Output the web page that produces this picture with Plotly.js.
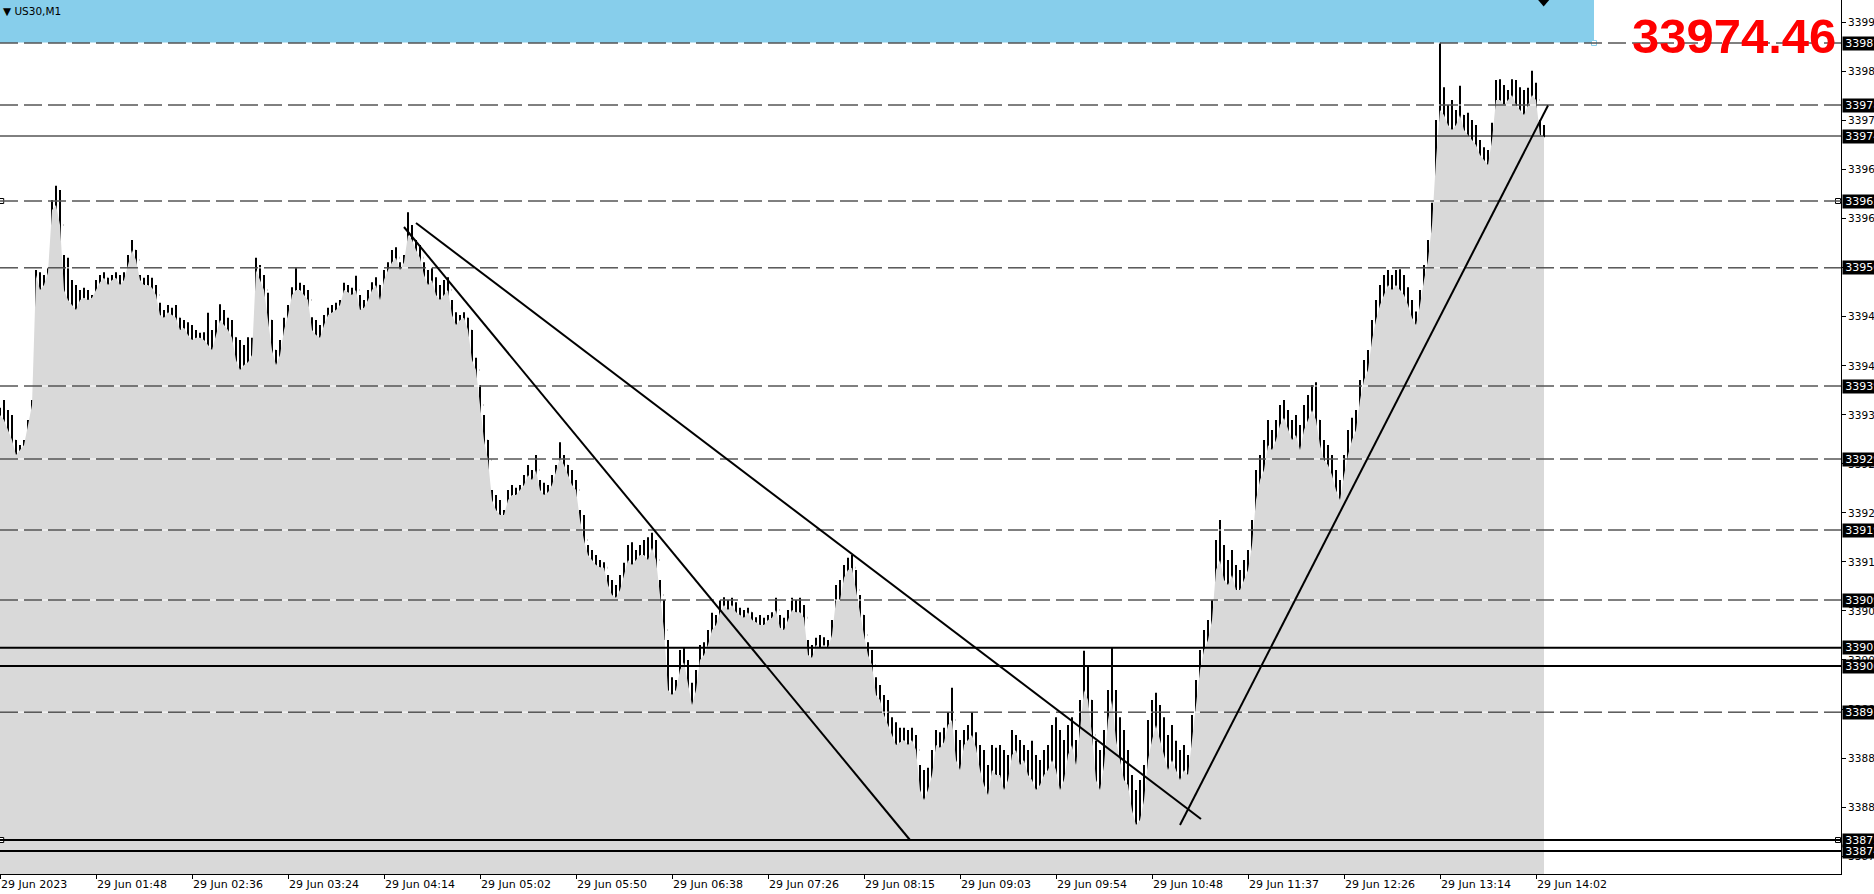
<!DOCTYPE html>
<html><head><meta charset="utf-8">
<script src="https://cdn.plot.ly/plotly-3.0.1.min.js"></script>
<style>html,body{margin:0;padding:0;overflow:hidden;background:#fff;width:1874px;height:894px}#chart{width:1920px;height:894px}</style>
</head><body><div id="chart"></div>
<script>
// US30, M1 — one entry per 2 one-minute bars
const high = [
33936.4,33937.5,33936.1,33935.4,33931.9,33931.2,33931.9,33934.7,33937.5,33955.7,
33955.4,33955.0,33956.0,33965.5,33967.5,33966.9,33957.8,33957.4,33954.3,33953.6,
33952.9,33953.2,33952.9,33952.2,33954.3,33955.0,33955.4,33954.6,33955.0,33955.4,
33955.0,33955.4,33957.8,33959.9,33958.5,33955.0,33954.6,33955.0,33954.6,33953.6,
33951.1,33950.1,33950.8,33950.4,33950.8,33949.0,33948.7,33948.4,33948.0,33947.3,
33946.9,33947.0,33949.7,33947.3,33948.7,33950.9,33950.1,33949.0,33948.7,33946.3,
33945.9,33945.2,33946.3,33946.2,33957.4,33956.4,33955.0,33952.5,33948.7,33944.5,
33945.9,33949.0,33950.8,33953.3,33956.0,33953.9,33953.6,33952.9,33949.1,33948.7,
33948.0,33949.4,33950.4,33950.8,33951.1,33951.5,33953.9,33953.6,33953.2,33954.9,
33952.2,33951.5,33952.9,33954.0,33954.7,33953.6,33955.7,33956.8,33958.5,33958.9,
33956.8,33957.8,33963.8,33962.0,33959.9,33959.2,33956.8,33955.7,33956.0,33954.7,
33953.6,33954.3,33954.7,33951.5,33949.8,33949.4,33949.8,33949.0,33947.3,33943.4,
33939.6,33935.4,33931.9,33924.9,33924.2,33923.5,33922.1,33924.9,33925.6,33925.2,
33925.6,33927.0,33928.4,33927.7,33929.8,33926.3,33925.9,33925.6,33927.0,33928.4,
33931.6,33929.8,33928.4,33927.7,33926.3,33922.1,33921.4,33917.2,33916.5,33915.8,
33915.1,33914.8,33913.0,33912.3,33911.6,33913.0,33914.7,33917.2,33917.6,33916.5,
33917.2,33917.9,33918.3,33918.9,33917.9,33912.3,33909.5,33903.9,33898.7,33898.3,
33902.5,33902.8,33901.1,33897.9,33899.7,33903.2,33903.6,33905.3,33907.7,33907.4,
33909.5,33909.9,33909.5,33909.8,33909.2,33908.4,33908.1,33908.4,33907.8,33907.1,
33907.4,33907.0,33907.4,33907.8,33909.8,33907.4,33907.0,33908.1,33909.8,33909.5,
33909.8,33908.8,33903.9,33903.2,33904.2,33904.6,33904.3,33903.9,33906.7,33911.6,
33912.3,33914.4,33915.4,33915.8,33913.7,33910.2,33907.4,33903.6,33902.5,33898.7,
33897.6,33896.2,33895.5,33893.1,33892.4,33891.6,33891.6,33891.3,33891.6,33890.6,
33886.4,33885.7,33886.0,33888.5,33891.3,33891.0,33891.6,33893.8,33897.2,33891.3,
33889.9,33891.3,33892.0,33893.8,33891.0,33889.2,33888.5,33886.4,33889.2,33888.8,
33889.2,33888.5,33887.8,33891.3,33890.6,33889.9,33889.2,33888.5,33889.8,33887.8,
33887.1,33888.5,33889.2,33892.0,33893.1,33891.3,33889.9,33892.0,33893.1,33889.9,
33895.5,33902.4,33900.4,33895.5,33889.8,33888.5,33891.3,33896.9,33902.8,33896.9,
33893.1,33891.3,33888.5,33885.0,33882.9,33884.3,33886.4,33892.7,33895.5,33896.5,
33894.8,33893.1,33890.6,33892.0,33889.8,33888.5,33889.2,33887.8,33893.4,33898.3,
33902.5,33905.3,33906.7,33909.5,33917.9,33920.7,33917.2,33915.1,33916.5,33914.4,
33913.7,33915.1,33916.5,33920.7,33927.7,33929.8,33931.9,33934.7,33933.3,33934.7,
33936.8,33937.5,33936.1,33934.7,33935.4,33934.0,33936.8,33938.2,33939.6,33940.0,
33934.7,33931.9,33931.2,33929.8,33927.7,33926.3,33929.8,33933.3,33935.0,33936.1,
33940.3,33943.1,33944.5,33948.7,33951.5,33953.6,33955.0,33955.7,33955.0,33955.7,
33955.8,33955.0,33953.3,33951.5,33949.9,33952.9,33956.4,33959.9,33965.1,33976.7,
33987.5,33981.3,33978.8,33979.5,33978.1,33981.5,33977.4,33977.7,33976.7,33976.0,
33973.9,33972.9,33972.5,33976.3,33982.3,33982.4,33981.6,33980.9,33982.4,33982.3,
33981.3,33980.9,33981.2,33983.6,33981.9,33976.7,33976.0
];
const low = [
33934.0,33933.3,33931.9,33931.2,33928.8,33928.8,33929.4,33930.9,33933.3,33937.5,
33949.8,33951.5,33952.9,33955.7,33962.7,33958.5,33950.8,33946.9,33948.7,33948.0,
33949.4,33949.8,33950.1,33950.8,33951.5,33951.8,33952.9,33951.5,33952.6,33953.2,
33947.7,33951.5,33954.0,33956.0,33955.7,33952.9,33952.2,33951.2,33951.5,33951.1,
33948.0,33947.3,33948.7,33948.0,33946.6,33945.6,33946.2,33945.2,33943.8,33944.2,
33945.2,33945.2,33943.8,33942.8,33944.5,33946.6,33945.2,33945.9,33943.8,33941.0,
33937.8,33940.3,33939.6,33941.0,33945.9,33951.5,33950.4,33945.9,33941.0,33939.3,
33940.3,33943.1,33945.9,33949.8,33950.8,33951.5,33950.8,33950.4,33945.9,33945.2,
33944.8,33946.3,33948.0,33948.4,33948.7,33949.0,33951.5,33951.5,33950.8,33951.8,
33948.0,33948.7,33949.4,33951.5,33951.8,33949.4,33951.5,33953.9,33955.0,33956.0,
33954.3,33955.0,33958.5,33956.8,33956.4,33955.4,33952.9,33951.5,33952.2,33949.4,
33947.7,33950.1,33950.8,33946.6,33946.6,33947.0,33947.6,33945.9,33941.0,33939.9,
33934.7,33931.2,33927.0,33921.4,33919.3,33918.2,33919.7,33922.1,33922.8,33922.8,
33923.5,33924.2,33924.9,33923.9,33924.9,33923.5,33922.8,33923.5,33924.2,33926.3,
33927.0,33927.0,33925.6,33924.2,33923.9,33918.6,33916.2,33914.4,33913.0,33912.7,
33913.0,33913.0,33910.2,33908.8,33908.5,33909.6,33910.9,33913.0,33911.9,33913.0,
33914.0,33913.7,33912.3,33914.4,33913.0,33908.1,33903.9,33893.7,33894.1,33894.8,
33896.9,33898.7,33895.5,33892.7,33893.4,33899.0,33900.0,33901.1,33903.2,33903.9,
33905.7,33906.7,33906.0,33907.4,33905.7,33906.0,33905.7,33906.4,33905.7,33905.3,
33904.6,33905.0,33905.3,33905.6,33906.0,33903.9,33903.2,33905.0,33906.0,33905.6,
33905.6,33905.3,33900.4,33899.7,33901.8,33901.5,33902.2,33901.8,33902.5,33906.0,
33904.9,33910.2,33911.6,33910.9,33909.5,33905.3,33902.5,33899.7,33898.7,33894.1,
33893.7,33890.6,33889.6,33888.5,33881.9,33887.5,33888.2,33887.1,33887.8,33886.7,
33875.9,33878.0,33880.1,33881.5,33886.4,33886.8,33887.1,33889.9,33886.0,33882.9,
33881.9,33886.4,33887.1,33887.8,33886.7,33881.5,33879.1,33879.4,33881.5,33882.2,
33881.5,33874.2,33876.6,33884.3,33885.0,33882.9,33883.6,33881.5,33880.1,33878.0,
33879.4,33881.5,33880.8,33882.9,33879.7,33877.3,33878.7,33882.9,33885.0,33881.5,
33886.4,33889.9,33891.3,33886.4,33879.7,33876.3,33881.5,33887.1,33889.9,33884.7,
33881.4,33878.0,33879.4,33875.9,33874.4,33874.2,33875.2,33882.9,33884.3,33886.4,
33885.0,33882.9,33879.7,33882.9,33881.5,33880.5,33882.9,33881.5,33885.7,33889.9,
33894.8,33898.3,33900.4,33902.5,33906.7,33909.5,33908.1,33908.8,33909.5,33908.1,
33908.8,33909.5,33910.2,33912.3,33919.3,33922.1,33923.5,33926.3,33927.0,33927.7,
33930.5,33931.9,33930.5,33928.4,33929.1,33927.7,33929.8,33931.2,33931.9,33930.5,
33927.7,33926.3,33925.6,33924.9,33922.1,33920.7,33923.5,33926.3,33927.7,33929.8,
33934.7,33936.8,33938.9,33942.4,33945.2,33947.3,33949.4,33950.8,33950.1,33950.8,
33950.1,33949.1,33947.4,33946.6,33945.8,33947.4,33951.5,33952.9,33956.7,33963.4,
33970.1,33972.5,33969.0,33968.3,33973.2,33973.9,33972.9,33971.1,33970.1,33971.1,
33969.7,33968.3,33968.6,33969.7,33975.3,33976.7,33975.7,33977.4,33976.7,33976.0,
33975.6,33975.3,33976.7,33977.4,33977.4,33971.8,33974.3
];
const close = [
33935.4,33934.7,33933.3,33931.9,33929.8,33930.5,33931.2,33934.0,33936.8,33955.0,
33952.9,33953.6,33955.4,33964.1,33964.8,33962.0,33952.9,33951.5,33950.8,33950.1,
33951.5,33951.8,33951.5,33951.8,33952.9,33954.0,33954.6,33953.6,33954.3,33954.6,
33953.6,33954.3,33956.4,33958.5,33957.1,33954.3,33953.6,33953.6,33953.2,33952.2,
33949.4,33949.0,33949.8,33949.4,33949.0,33947.3,33947.6,33946.6,33945.9,33946.2,
33946.2,33945.9,33945.2,33944.5,33946.6,33948.7,33948.0,33947.3,33946.2,33943.1,
33941.7,33942.4,33942.8,33943.8,33955.7,33954.3,33952.9,33948.7,33944.5,33942.4,
33943.8,33947.3,33949.4,33952.2,33952.9,33952.9,33952.2,33951.5,33947.3,33946.6,
33946.2,33948.0,33949.4,33949.8,33950.1,33950.8,33952.9,33952.6,33952.2,33952.9,
33950.1,33950.4,33951.5,33952.9,33953.6,33951.5,33954.3,33955.7,33956.8,33957.4,
33955.7,33956.8,33960.6,33959.9,33958.5,33957.4,33955.0,33953.6,33954.3,33952.2,
33951.5,33952.2,33952.9,33949.4,33948.0,33948.7,33949.0,33947.3,33943.1,33941.7,
33936.8,33931.9,33929.1,33923.5,33922.1,33921.4,33921.4,33923.5,33924.2,33924.2,
33924.9,33925.6,33927.0,33926.3,33927.7,33924.9,33924.2,33924.6,33925.6,33927.7,
33929.4,33928.4,33927.0,33925.6,33924.9,33920.7,33917.9,33915.8,33915.1,33914.4,
33914.1,33914.0,33911.6,33910.2,33909.8,33910.9,33913.0,33915.1,33914.4,33915.1,
33915.8,33915.8,33915.1,33916.8,33915.1,33910.2,33905.3,33896.9,33896.2,33896.9,
33899.7,33900.8,33897.6,33894.8,33896.9,33901.1,33901.8,33903.2,33905.3,33906.0,
33907.8,33908.8,33908.1,33908.8,33907.8,33907.4,33907.0,33907.8,33906.7,33906.4,
33906.0,33906.0,33906.7,33907.0,33908.1,33905.6,33905.3,33906.7,33908.1,33907.8,
33907.8,33907.0,33901.8,33901.4,33903.2,33902.8,33903.2,33902.8,33904.6,33909.5,
33909.5,33912.6,33913.7,33914.0,33910.9,33907.4,33904.6,33901.8,33900.4,33896.2,
33895.5,33893.4,33892.0,33890.6,33889.2,33889.6,33889.9,33889.2,33889.9,33888.5,
33882.9,33881.5,33882.9,33885.0,33889.2,33888.8,33889.6,33892.0,33892.7,33887.1,
33885.7,33889.2,33889.9,33890.6,33888.8,33885.7,33883.6,33882.2,33885.7,33885.0,
33885.0,33882.9,33884.3,33887.8,33888.5,33886.4,33887.1,33885.0,33884.3,33882.9,
33883.6,33885.0,33885.7,33887.1,33885.7,33882.9,33884.3,33887.8,33889.2,33886.4,
33891.3,33896.9,33895.5,33890.6,33884.3,33882.9,33886.4,33892.7,33895.5,33889.9,
33887.1,33884.3,33883.6,33880.1,33878.0,33878.7,33881.5,33887.1,33889.9,33892.0,
33889.9,33887.8,33885.7,33887.1,33885.7,33884.3,33885.7,33885.0,33889.9,33894.8,
33899.7,33902.5,33903.9,33906.7,33913.7,33915.1,33912.3,33911.6,33913.0,33910.9,
33910.9,33912.3,33913.7,33917.2,33923.5,33926.3,33927.7,33931.2,33930.5,33931.9,
33934.0,33935.0,33933.3,33931.9,33932.6,33930.5,33933.3,33934.7,33936.1,33934.7,
33931.2,33929.1,33928.4,33927.0,33924.9,33923.5,33927.0,33929.8,33931.9,33933.3,
33937.5,33940.3,33941.7,33945.9,33948.7,33950.8,33952.2,33953.6,33952.9,33953.6,
33952.9,33952.2,33950.8,33949.0,33948.0,33950.8,33954.3,33957.1,33962.0,33971.1,
33978.1,33977.4,33976.0,33975.3,33976.0,33977.4,33975.3,33974.6,33973.9,33973.2,
33971.8,33971.1,33970.4,33973.9,33979.5,33979.5,33978.8,33979.5,33980.2,33978.8,
33978.1,33977.4,33978.8,33980.2,33979.5,33974.6,33974.46
];
const timeLabels = ['29 Jun 2023','29 Jun 01:48','29 Jun 02:36','29 Jun 03:24','29 Jun 04:14','29 Jun 05:02',
  '29 Jun 05:50','29 Jun 06:38','29 Jun 07:26','29 Jun 08:15','29 Jun 09:03','29 Jun 09:54','29 Jun 10:48',
  '29 Jun 11:37','29 Jun 12:26','29 Jun 13:14','29 Jun 14:02'];
const yTickValues = [33990.32,33983.46,33976.60,33969.73,33962.87,33956.01,33949.15,33942.28,33935.42,
  33928.56,33921.69,33914.83,33907.97,33901.11,33894.24,33887.38,33880.52,33873.65];
const dashedLevels = [33987.48,33978.80,33965.36,33956.00,33939.46,33929.24,33919.30,33909.50,33893.80];
const solidLevels = [33902.80,33900.26,33875.90,33874.36];
const bidPrice = 33974.46;
const handleLevels = [33965.36,33875.90];
const trendBars = [[202,455],[208,600.5],[590,774]];
const trendPrices = [[33961.72,33875.90],[33962.28,33878.84],[33878.00,33978.73]];
const boxBars = [-2,797];
const boxPrices = [33987.48,34005];

const BARS_PER_POINT = 2, BARS_PER_LABEL = 48;
const xRange = [0, 920.5];
const yRange = [33871.14, 33993.5];
const barIndex = close.map((_, i) => i * BARS_PER_POINT);
const open = close.map((c, i) => i === 0 ? c : close[i - 1]);
const FONT = 'DejaVu Sans, Tahoma, sans-serif';

const traces = [
  {type:'scatter', mode:'lines', x:barIndex, y:close, fill:'tozeroy', fillcolor:'#d9d9d9',
   line:{width:0, color:'#d9d9d9'}, hoverinfo:'skip', showlegend:false},
  {type:'ohlc', x:barIndex, open:open, high:high, low:low, close:close, tickwidth:0.05,
   increasing:{line:{color:'#000', width:2}}, decreasing:{line:{color:'#000', width:2}},
   hoverinfo:'skip', showlegend:false},
  {type:'scatter', mode:'markers', x:[xRange[0]+0.6, xRange[1]-1.5, xRange[0]+0.6, xRange[1]-1.5],
   y:[handleLevels[0],handleLevels[0],handleLevels[1],handleLevels[1]], cliponaxis:false,
   marker:{symbol:'square', size:5, color:'#fff', line:{color:'#000', width:1}}, hoverinfo:'skip', showlegend:false},
  {type:'scatter', mode:'markers', x:[boxBars[1]], y:[boxPrices[0]], cliponaxis:false,
   marker:{symbol:'square', size:5, color:'#fff', line:{color:'#87ceeb', width:1}}, hoverinfo:'skip', showlegend:false}
];

const shapes = [];
shapes.push({type:'rect', xref:'x', yref:'y', x0:boxBars[0], x1:boxBars[1], y0:boxPrices[0], y1:boxPrices[1],
  fillcolor:'#87ceeb', line:{width:0}, layer:'below'});
dashedLevels.forEach(v => {
  shapes.push({type:'line', xref:'paper', yref:'y', x0:0, x1:1, y0:v, y1:v, line:{color:'#fff', width:1}});
  shapes.push({type:'line', xref:'paper', yref:'y', x0:0, x1:1, y0:v, y1:v, line:{color:'#000', width:1, dash:'18px,6px'}});
});
shapes.push({type:'line', xref:'paper', yref:'y', x0:0, x1:1, y0:bidPrice, y1:bidPrice, line:{color:'#000', width:1}});
solidLevels.forEach(v => shapes.push({type:'line', xref:'paper', yref:'y', x0:0, x1:1, y0:v, y1:v, line:{color:'#000', width:2}}));
trendBars.forEach((b, i) => shapes.push({type:'line', xref:'x', yref:'y', x0:b[0], x1:b[1],
  y0:trendPrices[i][0], y1:trendPrices[i][1], line:{color:'#000', width:2}}));
// chart-shift marker at top
shapes.push({type:'path', xref:'paper', yref:'paper', path:'M 0.8355 1 L 0.8415 1 L 0.8385 0.9925 Z', fillcolor:'#000', line:{width:0}});

const annotations = [];
const levelLabels = dashedLevels.concat(solidLevels, [bidPrice]);
levelLabels.forEach(v => annotations.push({xref:'paper', yref:'y', x:1, y:v, xanchor:'left', yanchor:'middle',
  xshift:1, text:'\u2009' + v.toFixed(2), showarrow:false, bgcolor:'#000', borderpad:0,
  font:{family:FONT, size:11, color:'#fff'}}));
annotations.push({xref:'paper', yref:'paper', x:1, y:1, xanchor:'right', yanchor:'top', xshift:-3, yshift:-7,
  text:'<b>' + bidPrice.toFixed(2) + '</b>', showarrow:false,
  font:{family:'Liberation Sans, Arial, sans-serif', size:49, color:'#ff0000'}});
annotations.push({xref:'paper', yref:'paper', x:0, y:1, xanchor:'left', yanchor:'top', xshift:1, yshift:-3,
  text:'▼ US30,M1', showarrow:false, font:{family:FONT, size:10.5, color:'#000'}});

const layout = {
  width:1920, height:894,
  margin:{l:0, r:79, t:0, b:20, pad:0},
  paper_bgcolor:'#fff', plot_bgcolor:'#fff',
  showlegend:false, dragmode:false,
  xaxis:{type:'linear', range:xRange, showgrid:false, zeroline:false, showline:true, linecolor:'#000', linewidth:1,
    ticks:'outside', ticklen:4, tickcolor:'#000', tickwidth:1,
    tickvals:timeLabels.map((_, i) => i * BARS_PER_LABEL), ticktext:timeLabels,
    ticklabelposition:'outside right', tickfont:{family:FONT, size:11, color:'#000'},
    rangeslider:{visible:false}, automargin:false, fixedrange:true},
  yaxis:{type:'linear', range:yRange, side:'right', showgrid:false, zeroline:false, showline:true, linecolor:'#000', linewidth:1,
    ticks:'outside', ticklen:4, tickcolor:'#000', tickwidth:1,
    tickvals:yTickValues, ticktext:yTickValues.map(v => v.toFixed(2)),
    tickfont:{family:FONT, size:10.5, color:'#000'}, automargin:false, fixedrange:true},
  shapes:shapes, annotations:annotations
};

Plotly.newPlot('chart', traces, layout, {displayModeBar:false, staticPlot:true});
</script>
</body></html>
